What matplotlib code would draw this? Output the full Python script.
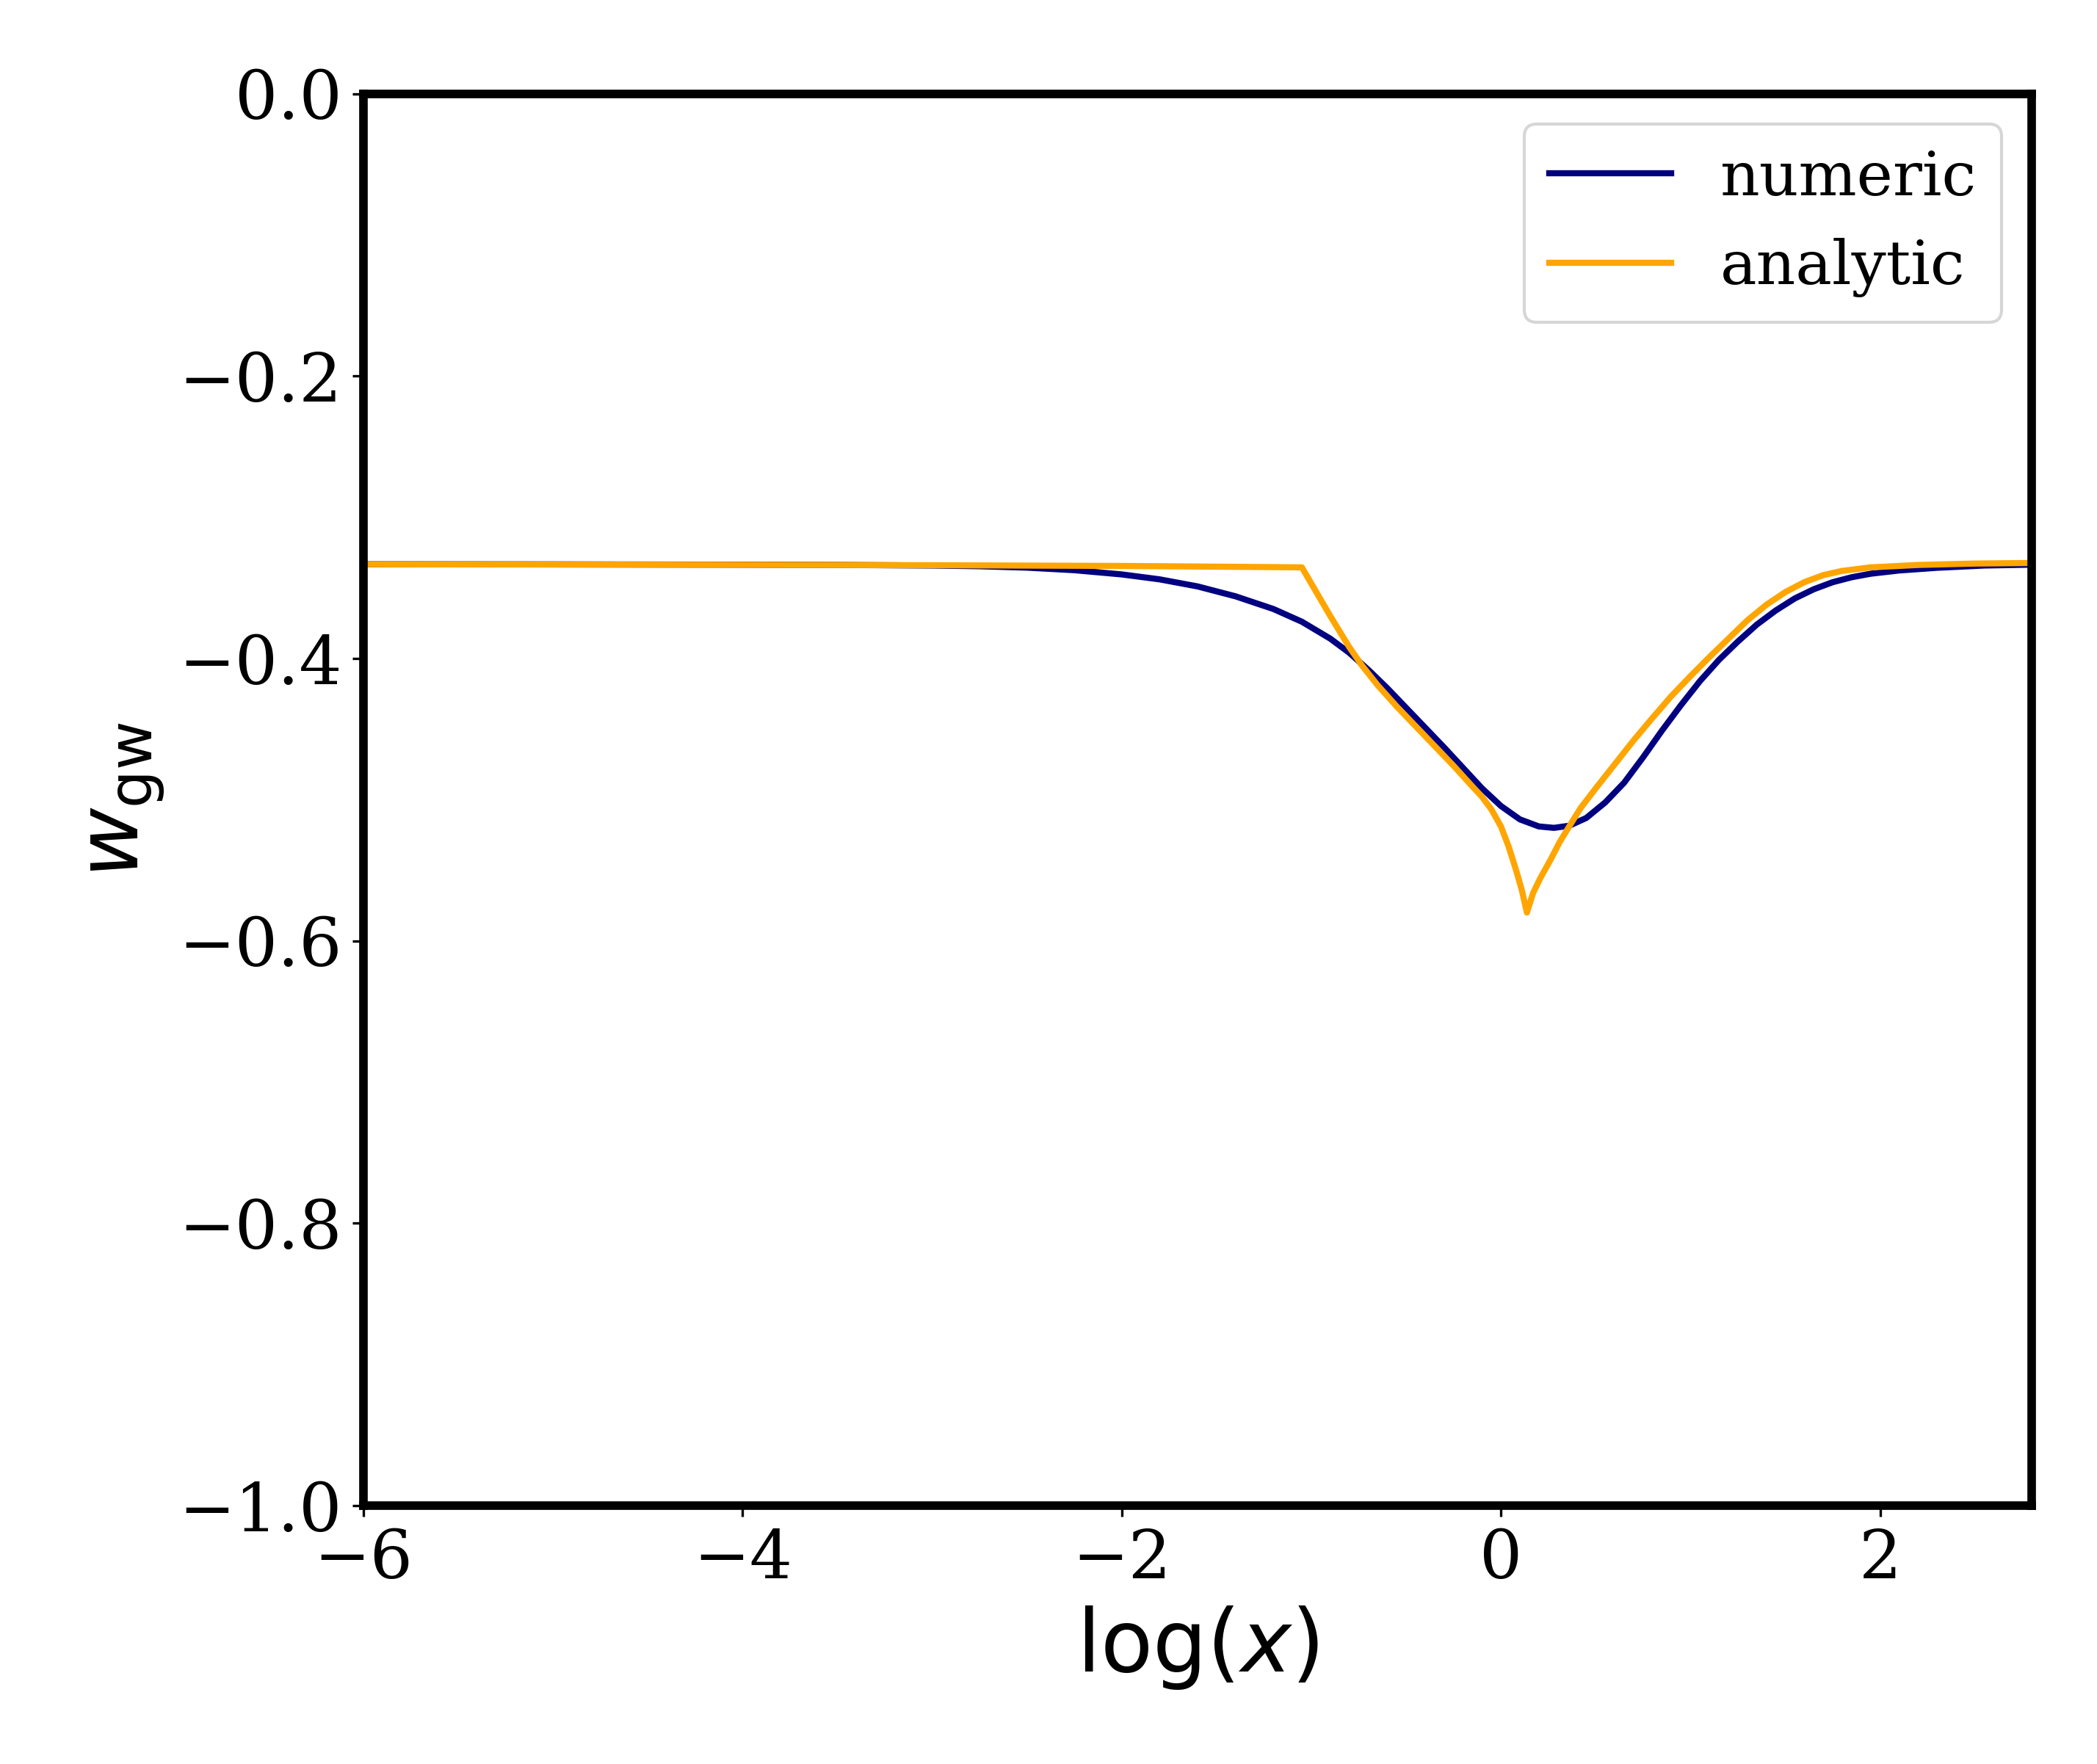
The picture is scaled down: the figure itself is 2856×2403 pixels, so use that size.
import matplotlib
matplotlib.use("Agg")
import matplotlib.pyplot as plt

plt.rcParams['font.family'] = 'serif'
plt.rcParams['font.serif'] = ['DejaVu Serif']

# numeric solution, log10(x) vs w_gw
x_num = [-6.0, -5.0, -4.0, -3.5, -3.0, -2.75, -2.5, -2.25, -2.0, -1.8, -1.6,
         -1.4, -1.2, -1.05, -0.9, -0.8, -0.7, -0.6, -0.5, -0.4, -0.3, -0.2,
         -0.1, 0.0, 0.1, 0.2, 0.28, 0.36, 0.45, 0.55, 0.65, 0.75, 0.85, 0.95,
         1.05, 1.15, 1.25, 1.35, 1.45, 1.55, 1.65, 1.75, 1.85, 1.95, 2.1, 2.3,
         2.55, 2.8]
w_num = [-0.3333, -0.3334, -0.3336, -0.3338, -0.3342, -0.3347, -0.3357,
         -0.3375, -0.3405, -0.3440, -0.3490, -0.3560, -0.3650, -0.3740,
         -0.3860, -0.3960, -0.4080, -0.4210, -0.4350, -0.4490, -0.4630,
         -0.4775, -0.4920, -0.5045, -0.5140, -0.5190, -0.5200, -0.5185,
         -0.5130, -0.5020, -0.4880, -0.4700, -0.4510, -0.4330, -0.4160,
         -0.4010, -0.3880, -0.3760, -0.3660, -0.3575, -0.3510, -0.3460,
         -0.3425, -0.3400, -0.3377, -0.3358, -0.3342, -0.3336]

# analytic approximation
x_ana = [-6.0, -4.0, -3.0, -2.0, -1.5, -1.05, -0.9, -0.8, -0.733, -0.65, -0.55,
         -0.45, -0.35, -0.25, -0.162, -0.1, -0.05, 0.0, 0.04, 0.08, 0.11, 0.137,
         0.17, 0.21, 0.26, 0.31, 0.36, 0.42, 0.5, 0.6, 0.7, 0.8, 0.9, 1.0, 1.1,
         1.2, 1.3, 1.4, 1.5, 1.6, 1.7, 1.8, 1.95, 2.2, 2.5, 2.8]
w_ana = [-0.3333, -0.3337, -0.3340, -0.3345, -0.3350, -0.3355, -0.370, -0.392,
         -0.405, -0.419, -0.434, -0.448, -0.462, -0.476, -0.489, -0.498,
         -0.507, -0.519, -0.533, -0.550, -0.564, -0.580, -0.566, -0.555,
         -0.543, -0.530, -0.519, -0.506, -0.492, -0.475, -0.458, -0.442,
         -0.4265, -0.4125, -0.399, -0.386, -0.373, -0.362, -0.353, -0.346,
         -0.341, -0.338, -0.3355, -0.3338, -0.3328, -0.3324]

fig = plt.figure(figsize=(9.52, 8.01), dpi=300)
ax = fig.add_axes([0.1733, 0.1465, 0.7956, 0.8004])

ax.plot(x_num, w_num, color='navy', lw=2, label='numeric')
ax.plot(x_ana, w_ana, color='orange', lw=2, label='analytic')

ax.set_xlim(-6, 2.8)
ax.set_ylim(-1.0, 0.0)
ax.set_xlabel(r'$\log(x)$', fontsize=28)
ax.set_ylabel(r'$w_{\rm gw}$', fontsize=28)
ax.tick_params(labelsize=22)
for s in ax.spines.values():
    s.set_linewidth(2.8)

ax.legend(loc='upper right', fontsize=20)

fig.savefig('out.png', dpi=300)
